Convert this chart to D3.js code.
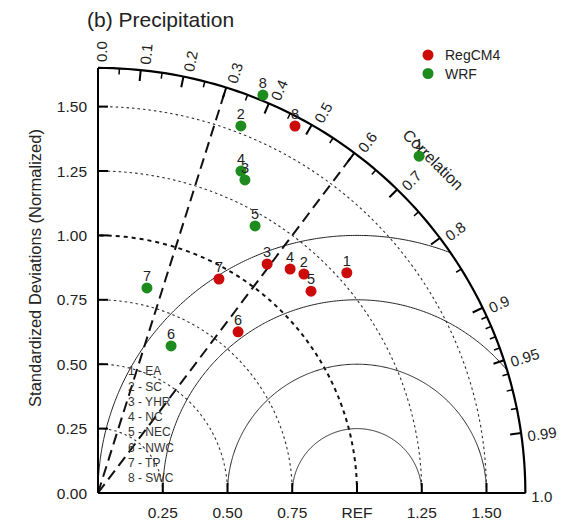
<!DOCTYPE html>
<html>
<head>
<meta charset="utf-8">
<script src="https://cdn.jsdelivr.net/npm/d3@7"></script>
<style>
  html, body { margin: 0; padding: 0; background: #fff; }
  svg { display: block; font-family: "Liberation Sans", Arial, Helvetica, sans-serif; }
</style>
</head>
<body>
<svg id="chart" width="564" height="521"></svg>
<script>
// ---------- data ----------
const regions = ["EA", "SC", "YHR", "NC", "NEC", "NWC", "TP", "SWC"];
const regcmStd  = [1.286, 1.164, 1.103, 1.143, 1.136, 0.827, 0.953, 1.615];
const regcmCorr = [0.747, 0.683, 0.592, 0.649, 0.724, 0.654, 0.490, 0.471];
const wrfStd    = [1.802, 1.528, 1.341, 1.366, 1.201, 0.637, 0.818, 1.671];
const wrfCorr   = [0.688, 0.361, 0.423, 0.404, 0.505, 0.443, 0.231, 0.381];
const seriesNames = ["RegCM4", "WRF"];
const seriesColors = ["#cc0a0a", "#1e8b1e"];

const stdTicks = [0, 0.25, 0.5, 0.75, 1.0, 1.25, 1.5];
const yTickLabels = ["0.00", "0.25", "0.50", "0.75", "1.00", "1.25", "1.50"];
const xTicks = [0.25, 0.5, 0.75, 1.0, 1.25, 1.5];
const xTickLabels = ["0.25", "0.50", "0.75", "REF", "1.25", "1.50"];
const corrMajor = [0, 0.1, 0.2, 0.3, 0.4, 0.5, 0.6, 0.7, 0.8, 0.9, 0.95, 0.99, 1.0];
const corrMajorLabels = ["0.0","0.1","0.2","0.3","0.4","0.5","0.6","0.7","0.8","0.9","0.95","0.99","1.0"];
const corrMinor = [0.05,0.15,0.25,0.35,0.45,0.55,0.65,0.75,0.85,0.91,0.92,0.93,0.94,0.96,0.97,0.98];
const stdArcs = [0.25, 0.5, 0.75, 1.25, 1.5];
const refArc = 1.0;
const rmsCircles = [0.25, 0.5, 0.75, 1.0];
const corrRays = [0.3, 0.6];
const RMAX = 1.65;

// ---------- scales ----------
const svg = d3.select("#chart");
const x = d3.scaleLinear().domain([0, RMAX]).range([98, 98 + RMAX * 259]);
const y = d3.scaleLinear().domain([0, RMAX]).range([493, 493 - RMAX * 257.6]);
const pxPerUnit = 258;

function pt(r, c) {
  const th = Math.acos(Math.max(-1, Math.min(1, c)));
  return [x(r * Math.cos(th)), y(r * Math.sin(th))];
}
const line = d3.line();

function stdArcPath(r) {
  const pts = d3.range(0, 91).map(i => {
    const th = i / 90 * Math.PI / 2;
    return [x(r * Math.cos(th)), y(r * Math.sin(th))];
  });
  return line(pts);
}
function rmsPath(rr) {
  const pts = [];
  for (let i = 0; i <= 360; i++) {
    const phi = i / 360 * Math.PI;
    const px = 1 + rr * Math.cos(phi), py = rr * Math.sin(phi);
    if (px < -1e-9) continue;
    if (Math.hypot(px, py) > RMAX + 1e-9) continue;
    pts.push([x(px), y(py)]);
  }
  return line(pts);
}

const g = svg.append("g");

g.selectAll(".stdarc").data(stdArcs).enter().append("path")
  .attr("d", d => stdArcPath(d))
  .attr("fill", "none").attr("stroke", "#333").attr("stroke-width", 1.1)
  .attr("stroke-dasharray", "2.5,3");
g.append("path").attr("d", stdArcPath(refArc))
  .attr("fill", "none").attr("stroke", "#111").attr("stroke-width", 2)
  .attr("stroke-dasharray", "4,4");

g.selectAll(".rms").data(rmsCircles).enter().append("path")
  .attr("d", d => rmsPath(d))
  .attr("fill", "none").attr("stroke", "#222").attr("stroke-width", 1);

g.selectAll(".ray").data(corrRays).enter().append("path")
  .attr("d", d => line([pt(0, d), pt(RMAX, d)]))
  .attr("fill", "none").attr("stroke", "#111").attr("stroke-width", 2)
  .attr("stroke-dasharray", "11,6");

g.append("path").attr("d", stdArcPath(RMAX))
  .attr("fill", "none").attr("stroke", "#000").attr("stroke-width", 2.2);
g.append("line").attr("x1", x(0)).attr("y1", y(0)).attr("x2", x(0)).attr("y2", y(RMAX))
  .attr("stroke", "#000").attr("stroke-width", 2);
g.append("line").attr("x1", x(0)).attr("y1", y(0)).attr("x2", x(RMAX)).attr("y2", y(0))
  .attr("stroke", "#000").attr("stroke-width", 2);

g.selectAll(".yt").data(stdTicks).enter().append("line")
  .attr("x1", x(0)).attr("x2", x(0) + 10)
  .attr("y1", d => y(d)).attr("y2", d => y(d))
  .attr("stroke", "#000").attr("stroke-width", 2);
g.selectAll(".yl").data(stdTicks).enter().append("text")
  .attr("x", 87).attr("y", d => y(d)).attr("dy", "0.36em")
  .attr("text-anchor", "end").attr("font-size", 15.5).attr("fill", "#222")
  .text((d, i) => yTickLabels[i]);

g.selectAll(".xt").data(xTicks).enter().append("line")
  .attr("x1", d => x(d)).attr("x2", d => x(d))
  .attr("y1", y(0)).attr("y2", y(0) - 10)
  .attr("stroke", "#000").attr("stroke-width", 2);
g.selectAll(".xl").data(xTicks).enter().append("text")
  .attr("x", d => x(d)).attr("y", 518)
  .attr("text-anchor", "middle").attr("font-size", 15.5).attr("fill", "#222")
  .text((d, i) => xTickLabels[i]);

function corrTick(c, len) {
  return line([pt(RMAX, c), pt(RMAX - len / pxPerUnit, c)]);
}
g.selectAll(".cmaj").data(corrMajor).enter().append("path")
  .attr("d", d => corrTick(d, 11)).attr("stroke", "#000").attr("stroke-width", 2);
g.selectAll(".cmin").data(corrMinor).enter().append("path")
  .attr("d", d => corrTick(d, 6)).attr("stroke", "#000").attr("stroke-width", 1.5);
g.selectAll(".clab").data(corrMajor).enter().append("text")
  .attr("transform", d => {
    const p = pt(RMAX + 6 / pxPerUnit, d);
    const deg = Math.acos(d) * 180 / Math.PI;
    return `translate(${p[0]},${p[1]}) rotate(${-deg})`;
  })
  .attr("dy", "0.62em").attr("text-anchor", "start")
  .attr("font-size", 15).attr("fill", "#222")
  .text((d, i) => corrMajorLabels[i]);

{
  const p = pt(1.83, 0.707);
  g.append("text")
    .attr("transform", `translate(${p[0]},${p[1]}) rotate(45)`)
    .attr("dy", "0.35em").attr("text-anchor", "middle")
    .attr("font-size", 16).attr("fill", "#222").text("Correlation");
}

const series = [
  { name: seriesNames[0], color: seriesColors[0], std: regcmStd, corr: regcmCorr },
  { name: seriesNames[1], color: seriesColors[1], std: wrfStd, corr: wrfCorr }
];
series.forEach(s => {
  const pts = regions.map((r, i) => ({ id: i + 1, p: pt(s.std[i], s.corr[i]) }));
  g.selectAll(null).data(pts).enter().append("circle")
    .attr("cx", d => d.p[0]).attr("cy", d => d.p[1]).attr("r", 5.5)
    .attr("fill", s.color);
  g.selectAll(null).data(pts).enter().append("text")
    .attr("x", d => d.p[0]).attr("y", d => d.p[1] - 7)
    .attr("text-anchor", "middle").attr("font-size", 14.5).attr("fill", "#222")
    .text(d => d.id);
});

g.selectAll(".reg").data(regions).enter().append("text")
  .attr("x", 128).attr("y", (d, i) => 371 + i * 15.3).attr("dy", "0.35em")
  .attr("font-size", 12).attr("fill", "#333")
  .text((d, i) => `${i + 1} - ${d}`);

series.forEach((s, i) => {
  svg.append("circle").attr("cx", 428).attr("cy", 55 + i * 18.5).attr("r", 5.5).attr("fill", s.color);
  svg.append("text").attr("x", 445).attr("y", 55 + i * 18.5).attr("dy", "0.36em")
    .attr("font-size", 14).attr("fill", "#222").text(s.name);
});

svg.append("text").attr("x", 87).attr("y", 27).attr("font-size", 21).attr("fill", "#222")
  .text("(b) Precipitation");

svg.append("text").attr("transform", "translate(35,268) rotate(-90)")
  .attr("dy", "0.35em").attr("text-anchor", "middle")
  .attr("font-size", 16.5).attr("fill", "#222")
  .text("Standardized Deviations (Normalized)");
</script>
</body>
</html>
